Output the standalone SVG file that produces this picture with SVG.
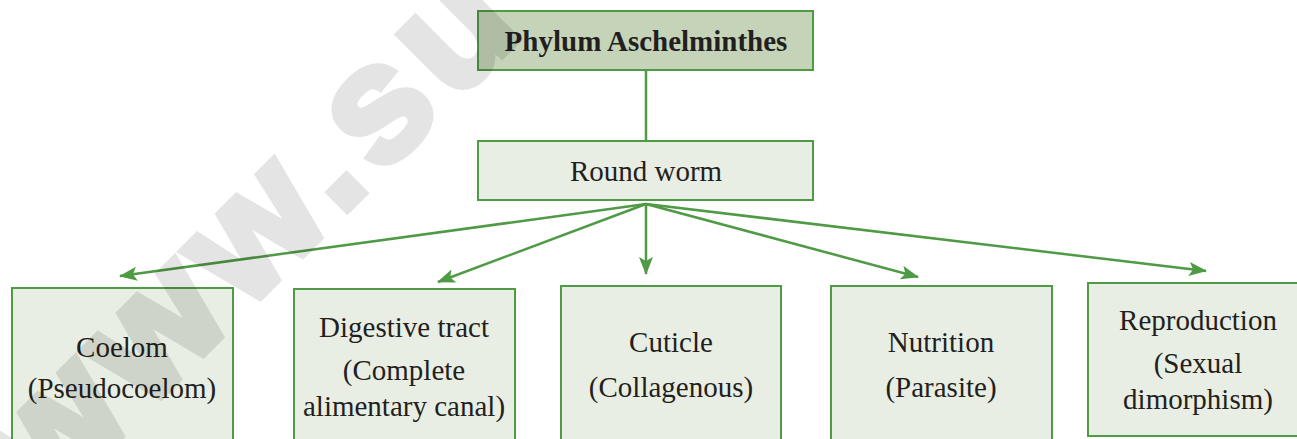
<svg xmlns="http://www.w3.org/2000/svg" width="1297" height="439" viewBox="0 0 1297 439">
<style>
.box{fill:#e8eee3;stroke:#4f9a45;stroke-width:2}
.top{fill:#c5d4b9;stroke:#4f9a45;stroke-width:2}
.t{font-family:"Liberation Serif","Times New Roman",serif;font-size:29px;fill:#231f20;text-anchor:middle}
.b{font-weight:bold}
.c{stroke:#4f9a45;stroke-width:2.5;fill:none}
.wm{font-family:"Liberation Sans",Arial,sans-serif;font-weight:bold;font-size:165px;letter-spacing:12px;fill:#000;stroke:#000;stroke-width:8}
</style>
<defs>
<marker id="ah" markerUnits="userSpaceOnUse" markerWidth="18" markerHeight="14" refX="17" refY="7" orient="auto">
<path d="M0,0 L18,7 L0,14 L4,7 Z" fill="#4f9a45"/>
</marker>
</defs>
<rect width="1297" height="439" fill="#fff"/>
<g id="phylum">
<rect class="top" x="478" y="11" width="335" height="59"/>
<text class="t b" x="646" y="51">Phylum Aschelminthes</text>
</g>
<g id="roundworm">
<rect class="box" x="478" y="141" width="335" height="59"/>
<text class="t" x="646" y="181">Round worm</text>
</g>
<g id="coelom">
<rect class="box" x="12" y="288" width="221" height="160"/>
<text class="t" x="122" y="357">Coelom</text>
<text class="t" x="122" y="398">(Pseudocoelom)</text>
</g>
<g id="digestive">
<rect class="box" x="294" y="289" width="221" height="160"/>
<text class="t" x="404" y="337">Digestive tract</text>
<text class="t" x="404" y="380">(Complete</text>
<text class="t" x="404" y="416">alimentary canal)</text>
</g>
<g id="cuticle">
<rect class="box" x="561" y="286" width="220" height="160"/>
<text class="t" x="671" y="352">Cuticle</text>
<text class="t" x="671" y="397">(Collagenous)</text>
</g>
<g id="nutrition">
<rect class="box" x="831" y="286" width="221" height="160"/>
<text class="t" x="941" y="352">Nutrition</text>
<text class="t" x="941" y="397">(Parasite)</text>
</g>
<g id="reproduction">
<rect class="box" x="1088" y="283" width="220" height="153"/>
<text class="t" x="1198" y="330">Reproduction</text>
<text class="t" x="1198" y="373">(Sexual</text>
<text class="t" x="1198" y="409">dimorphism)</text>
</g>
<g id="connectors">
<line class="c" x1="646" y1="70" x2="646" y2="141"/>
<line class="c" x1="646" y1="204" x2="120" y2="276" marker-end="url(#ah)"/>
<line class="c" x1="646" y1="204" x2="438" y2="282" marker-end="url(#ah)"/>
<line class="c" x1="646" y1="204" x2="646" y2="274" marker-end="url(#ah)"/>
<line class="c" x1="646" y1="204" x2="918" y2="277" marker-end="url(#ah)"/>
<line class="c" x1="646" y1="204" x2="1206" y2="271" marker-end="url(#ah)"/>
</g>
<g id="watermark" opacity="0.1">
<text class="wm" transform="translate(46,511) rotate(-45)">www.su</text>
</g>
</svg>
